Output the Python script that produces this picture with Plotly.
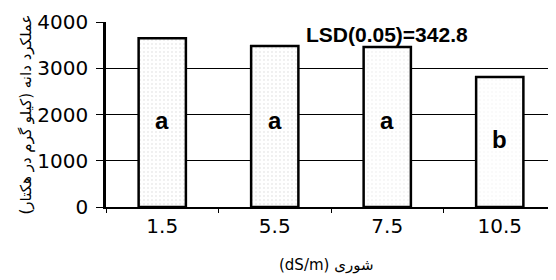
import plotly.graph_objects as go

categories = ["1.5", "5.5", "7.5", "10.5"]
yield_values = [3650, 3480, 3460, 2810]
group_letters = ["a", "a", "a", "b"]
letter_y = [1880, 1880, 1880, 1450]
y_ticks = [0, 1000, 2000, 3000, 4000]
lsd_text = "LSD(0.05)=342.8"
x_title = "(dS/m) شوری"
y_title = "عملکرد دانه (کیلو گرم در هکتار)"

fig = go.Figure()
fig.add_trace(go.Bar(
    x=categories, y=yield_values, width=0.42,
    marker=dict(
        color="white",
        line=dict(color="black", width=2.5),
        pattern=dict(shape=".", fgcolor=["#b0b0b0", "#b0b0b0", "#d0d0d0", "#e4e4e4"],
                     bgcolor="white", size=4, solidity=0.1),
    ),
))

for i, (t, yy) in enumerate(zip(group_letters, letter_y)):
    fig.add_annotation(x=i, y=yy, text=t, showarrow=False,
                       font=dict(family="Liberation Sans, Arial", size=24, color="black", weight="bold"))

fig.add_annotation(x=2, y=3720, text=lsd_text, showarrow=False,
                   font=dict(family="Liberation Sans, Arial", size=21, color="black", weight="bold"))

fig.add_annotation(xref="paper", yref="paper", x=-0.18, y=0.5, xanchor="center", yanchor="middle",
                   text=y_title, textangle=-90, showarrow=False,
                   font=dict(family="DejaVu Sans", size=15, color="black"))

fig.add_annotation(xref="paper", yref="paper", x=0.49, y=-0.314, xanchor="center", yanchor="middle",
                   text=x_title, showarrow=False,
                   font=dict(family="DejaVu Sans", size=15, color="black"))

fig.update_layout(
    width=548, height=272,
    margin=dict(l=98, r=0, t=14, b=73),
    paper_bgcolor="white", plot_bgcolor="white",
    showlegend=False,
    font=dict(family="DejaVu Sans", color="black"),
    xaxis=dict(
        type="category",
        range=[-0.5, 3.5], showgrid=False,
        showline=True, linecolor="black", linewidth=1.5,
        ticks="outside", tickson="boundaries", ticklen=4, tickcolor="black",
        tickfont=dict(size=20, color="black"),
    ),
    yaxis=dict(
        range=[0, 4000], tickvals=y_ticks,
        showgrid=True, gridcolor="black", gridwidth=1,
        showline=True, linecolor="black", linewidth=2.5,
        ticks="outside", ticklen=7, tickcolor="black",
        ticklabelstandoff=4,
        tickfont=dict(size=20, color="black"),
        zeroline=False,
    ),
)

fig.write_html("out.html")
